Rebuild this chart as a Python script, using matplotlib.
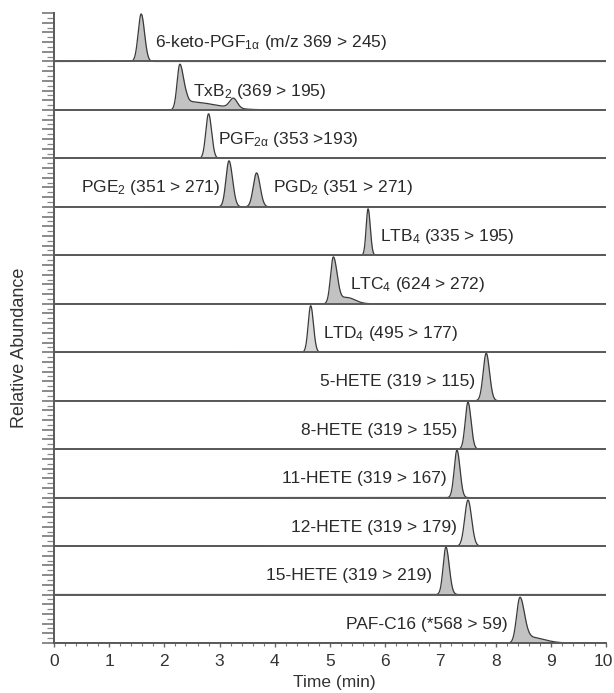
import numpy as np
import matplotlib
matplotlib.use("Agg")
import matplotlib.pyplot as plt
from matplotlib.ticker import MultipleLocator, FuncFormatter

plt.rcParams["font.family"] = ["Liberation Sans", "DejaVu Sans"]
plt.rcParams["mathtext.fontset"] = "custom"
plt.rcParams["mathtext.rm"] = "Liberation Sans"
plt.rcParams["mathtext.it"] = "Liberation Sans:italic"
plt.rcParams["mathtext.default"] = "regular"

# ---- data (one row per MRM trace, top to bottom) ----
labels = [
    r"6-keto-PGF$_{1\alpha}$ (m/z 369 > 245)",
    r"TxB$_2$ (369 > 195)",
    r"PGF$_{2\alpha}$ (353 >193)",
    r"PGE$_2$ (351 > 271)",
    r"LTB$_4$ (335 > 195)",
    r"LTC$_4$ (624 > 272)",
    r"LTD$_4$ (495 > 177)",
    "5-HETE (319 > 115)",
    "8-HETE (319 > 155)",
    "11-HETE (319 > 167)",
    "12-HETE (319 > 179)",
    "15-HETE (319 > 219)",
    "PAF-C16 (*568 > 59)",
]
label_x = [1.83, 2.52, 2.97, 3.01, 5.91, 5.36, 4.87, 7.63, 7.30, 7.12, 7.30, 6.85, 8.21]
label_ha = ["left", "left", "left", "right", "left", "left", "left",
            "right", "right", "right", "right", "right", "right"]
extra_label = r"PGD$_2$ (351 > 271)"
extra_label_x = 3.97

# peaks: (trace index, retention time, relative height, sigma left, sigma right)
peak_trace = [0, 1, 1, 1, 2, 3, 3, 4, 5, 5, 6, 7, 8, 9, 10, 11, 12, 12]
peak_rt = [1.58, 2.28, 2.42, 3.25, 2.80, 3.17, 3.67, 5.69, 5.06, 5.30, 4.65,
           7.83, 7.50, 7.30, 7.50, 7.10, 8.44, 8.62]
peak_h = [0.98, 0.94, 0.17, 0.20, 0.92, 0.95, 0.70, 0.96, 0.96, 0.13, 0.96,
          0.98, 0.97, 0.98, 0.95, 0.98, 0.92, 0.12]
peak_sl = [0.055, 0.050, 0.05, 0.07, 0.050, 0.055, 0.060, 0.035, 0.050, 0.10, 0.045,
           0.055, 0.050, 0.050, 0.060, 0.050, 0.060, 0.10]
peak_sr = [0.060, 0.070, 0.50, 0.07, 0.055, 0.065, 0.065, 0.040, 0.070, 0.15, 0.050,
           0.060, 0.055, 0.055, 0.065, 0.060, 0.080, 0.25]
light_fill = [2, 6, 10]

n_traces = len(labels)
t = np.linspace(0, 10, 3000)

fig = plt.figure(figsize=(6.14, 6.93), dpi=100)
ax = fig.add_axes([54 / 614, 1 - 643 / 693, 552 / 614, 630 / 693])

for i in range(n_traces):
    base = n_traces - 1 - i
    sig = np.zeros_like(t)
    for k, tr in enumerate(peak_trace):
        if tr != i:
            continue
        s = np.where(t < peak_rt[k], peak_sl[k], peak_sr[k])
        sig += peak_h[k] * np.exp(-0.5 * ((t - peak_rt[k]) / s) ** 2)
    y = base + sig
    fc = "#d8d8d8" if i in light_fill else "#c2c2c2"
    ax.fill_between(t, base, y, where=sig > 0.01, color=fc, lw=0)
    ax.plot(t, y, color="#3a3a3a", lw=0.9)
    ax.axhline(base, color="#5a5a5a", lw=1.4, zorder=3)
    ax.text(label_x[i], base + 0.39, labels[i], ha=label_ha[i], va="center",
            fontsize=12.5, color="#2a2a2a")

ax.text(extra_label_x, n_traces - 4 + 0.39, extra_label, ha="left", va="center",
        fontsize=12.5, color="#2a2a2a")

ax.set_xlim(0, 10)
ax.set_ylim(0, n_traces)
for side in ("top", "right"):
    ax.spines[side].set_visible(False)
for side in ("left", "bottom"):
    ax.spines[side].set_color("#5a5a5a")
    ax.spines[side].set_linewidth(1.4)

# last tick label sits at the image edge; draw it right-aligned so it stays whole
ax.xaxis.set_major_locator(MultipleLocator(1))
ax.xaxis.set_major_formatter(FuncFormatter(lambda v, p: "" if v >= 10 else f"{v:.0f}"))
ax.xaxis.set_minor_locator(MultipleLocator(0.2))
ax.tick_params(axis="x", which="major", length=3, width=1, color="#666666",
               labelsize=12.5, labelcolor="#333333", pad=5)
ax.tick_params(axis="x", which="minor", length=2, width=0.8, color="#777777")
fig.text(613 / 614, 1 - 661 / 693, "10", ha="right", va="center",
         fontsize=12.5, color="#333333")

ax.yaxis.set_major_locator(MultipleLocator(0.2))
ax.yaxis.set_minor_locator(MultipleLocator(0.1))
ax.tick_params(axis="y", which="major", length=9, width=1.2, color="#777777",
               labelleft=False)
ax.tick_params(axis="y", which="minor", length=5, width=0.9, color="#888888")

fig.text(20 / 614, 1 - 348 / 693, "Relative Abundance", rotation=90,
         ha="center", va="center", fontsize=13, color="#333333")
fig.text(334 / 614, 1 - 683 / 693, "Time (min)", ha="center", va="center",
         fontsize=12.5, color="#333333")

fig.savefig("out.png", dpi=100)
